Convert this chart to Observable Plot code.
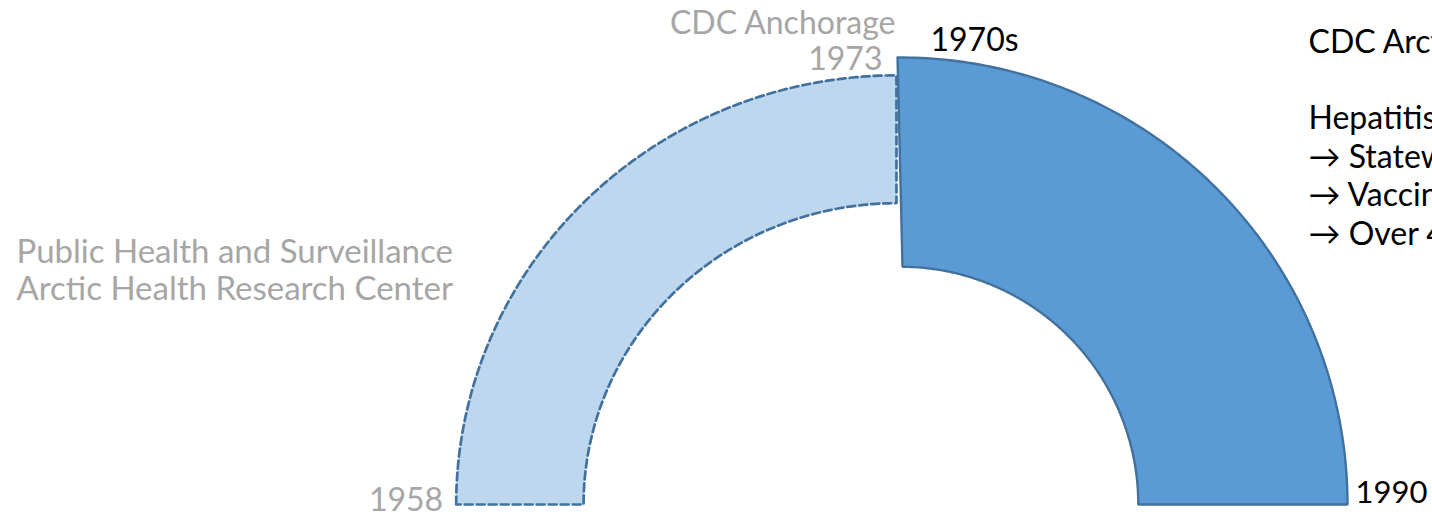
<!DOCTYPE html>
<html>
<head>
<meta charset="utf-8">
<script src="https://cdn.jsdelivr.net/npm/d3@7"></script>
<script src="https://cdn.jsdelivr.net/npm/@observablehq/plot@0.6"></script>
<style>
  html, body { margin: 0; padding: 0; background: #fff; overflow: hidden; }
</style>
</head>
<body>
<div id="chart"></div>
<script>
// ---- data ----
const periods = ["Arctic Health Research Center", "CDC Arctic Investigations Program"];
const startYears = ["1958", "1970s"];
const endYears = ["1973", "1990"];
const leftLabels = ["Public Health and Surveillance", "Arctic Health Research Center"];
const transitionLabels = ["CDC Anchorage", "1973"];
const rightNotes = ["CDC Arctic Investigations Program", "", "Hepatitis B",
  "\u2192 Statewide screening", "\u2192 Vaccination", "\u2192 Over 40 years of follow-up"];

// ---- geometry (shape of the two block arcs, in data units) ----
const shapes = [
  {cx: -0.009, rxO: 0.985, ryO: 0.96, rxI: 0.70, ryI: 0.674, o0: 180, o1: 90, i0: 180, i1: 90},
  {cx: 0, rxO: 1, ryO: 1, rxI: 0.532, ryI: 0.532, o0: 90.38, o1: 0, i0: 89.52, i1: 0}
];
const rad = Math.PI / 180;
function band(s, period) {
  const pts = [];
  const n = 120;
  for (let k = 0; k <= n; k++) {
    const a = (s.o0 + (s.o1 - s.o0) * k / n) * rad;
    pts.push({period, x: s.cx + s.rxO * Math.cos(a), y: s.ryO * Math.sin(a)});
  }
  for (let k = n; k >= 0; k--) {
    const a = (s.i0 + (s.i1 - s.i0) * k / n) * rad;
    pts.push({period, x: s.cx + s.rxI * Math.cos(a), y: s.ryI * Math.sin(a)});
  }
  pts.push(pts[0]);
  return pts;
}
const leftBand = band(shapes[0], periods[0]);
const rightBand = band(shapes[1], periods[1]);

const gray = "#A6A6A6";
const font = "Lato, 'Open Sans', sans-serif";
const fs = 32;

const L = shapes[0], Rt = shapes[1];
const leftOuterBottom = {x: L.cx - L.rxO, y: 0};
const leftTop = {x: L.cx, y: L.ryO};
const rightTop = {x: Rt.cx, y: Rt.ryO};
const rightOuterBottom = {x: Rt.cx + Rt.rxO, y: 0};

const chart = Plot.plot({
  width: 1432,
  height: 517,
  margin: 0,
  x: {domain: [-1, 1], range: [453, 1347], axis: null},
  y: {domain: [0, 1], range: [504, 57], axis: null},
  marks: [
    Plot.line(leftBand, {x: "x", y: "y", fill: "#BDD7EE", stroke: "#41719C",
      strokeWidth: 2.7, strokeDasharray: "8,4", strokeLinejoin: "miter", curve: "linear"}),
    Plot.line(rightBand, {x: "x", y: "y", fill: "#5B9BD5", stroke: "#41719C",
      strokeWidth: 2.4, strokeLinejoin: "miter", curve: "linear"}),
    // start / end years
    Plot.text([startYears[0]], {x: leftOuterBottom.x, y: leftOuterBottom.y, text: d => d,
      textAnchor: "end", lineAnchor: "bottom", dx: -13, dy: 6, fill: gray, fontSize: fs, fontFamily: font}),
    Plot.text([endYears[0]], {x: leftTop.x, y: leftTop.y, text: d => d,
      textAnchor: "end", lineAnchor: "bottom", dx: -14, dy: -5, fill: gray, fontSize: fs, fontFamily: font}),
    Plot.text([transitionLabels[0]], {x: leftTop.x, y: leftTop.y, text: d => d,
      textAnchor: "end", lineAnchor: "bottom", dx: -1, dy: -41, fill: gray, fontSize: fs, fontFamily: font}),
    Plot.text([startYears[1]], {x: rightTop.x, y: rightTop.y, text: d => d,
      textAnchor: "start", lineAnchor: "bottom", dx: 30, dy: -7, fill: "#000", fontSize: fs, fontFamily: font}),
    Plot.text([endYears[1]], {x: rightOuterBottom.x, y: rightOuterBottom.y, text: d => d,
      textAnchor: "start", lineAnchor: "bottom", dx: 8, dy: -2, fill: "#000", fontSize: 31, fontFamily: font}),
    // period descriptions
    Plot.text([leftLabels.join("\n")], {frameAnchor: "left", y: leftOuterBottom.y, text: d => d,
      textAnchor: "start", lineAnchor: "bottom", lineHeight: 37 / 33, dx: 16, dy: -205,
      fill: gray, fontSize: 33, fontFamily: font}),
    Plot.text([rightNotes.join("\n")], {x: rightTop.x, y: rightTop.y, text: d => d,
      textAnchor: "start", lineAnchor: "bottom", lineHeight: 38.4 / fs, dx: 408, dy: 187,
      fill: "#000", fontSize: fs, fontFamily: font})
  ]
});
document.getElementById("chart").appendChild(chart);
</script>
</body>
</html>
